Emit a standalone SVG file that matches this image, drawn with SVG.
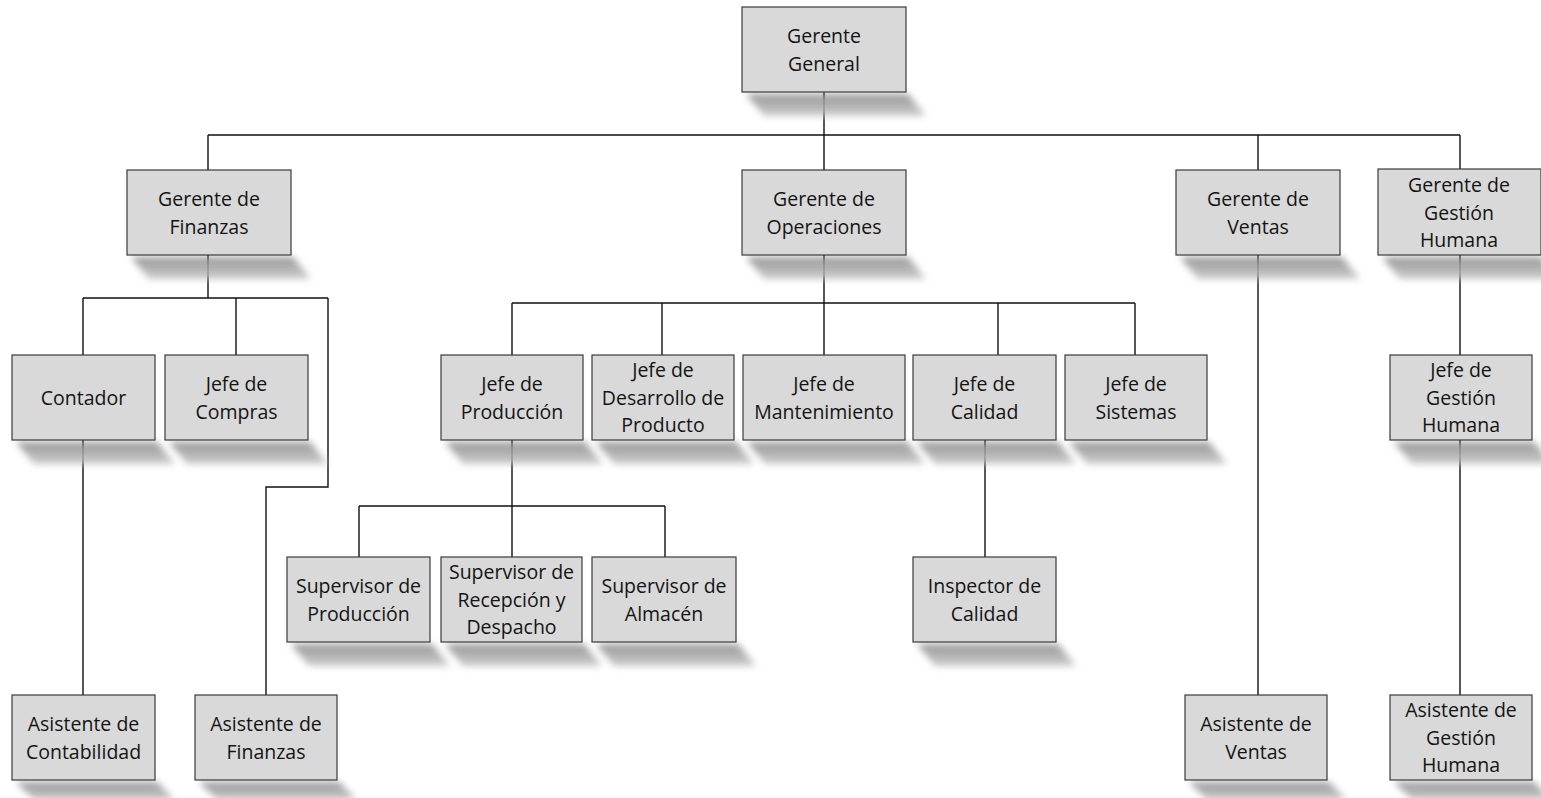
<svg xmlns="http://www.w3.org/2000/svg" width="1541" height="798" viewBox="0 0 1541 798">
  <defs>
    <filter id="soft" x="-20%" y="-80%" width="140%" height="260%">
      <feGaussianBlur stdDeviation="3.5"/>
    </filter>
    <linearGradient id="shade" x1="0" y1="0" x2="0" y2="1">
      <stop offset="0" stop-color="#858585"/>
      <stop offset="1" stop-color="#c4c4c4"/>
    </linearGradient>
  </defs>
  <style>
    .box { fill: #d9d9d9; stroke: #3a3a3a; stroke-width: 1.2; }
    .shadow { fill: url(#shade); filter: url(#soft); opacity: 0.85; }
    .lbl { font-family: "Open Sans", "Liberation Sans", sans-serif; font-size: 19.5px; fill: #141414; text-anchor: middle; }
    .wire { fill: none; stroke: #111; stroke-width: 1.4; }
  </style>
  <rect width="1541" height="798" fill="#ffffff"/>

  <!-- connectors -->
  <g id="connectors" class="wire">
    <path d="M824 92V135M208 135H1460M208 135V170M824 135V170M1258 135V170M1460 135V170"/>
    <!-- finance branch -->
    <path d="M208 255V298M83 298H328M83 298V355M236 298V355M328 298V487H266V695M83 440V695"/>
    <!-- operations branch -->
    <path d="M824 255V303M512 303H1135M512 303V355M662 303V355M824 303V355M998 303V355M1135 303V355"/>
    <path d="M512 440V506M359 506H665M359 506V557M512 506V557M665 506V557"/>
    <path d="M985 440V557"/>
    <!-- sales -->
    <path d="M1258 255V695"/>
    <!-- human resources -->
    <path d="M1460 255V355M1460 440V695"/>
  </g>

  <g id="gerente-general">
    <polygon class="shadow" points="746,94 908,94 926,116 764,116"/>
    <rect class="box" x="742" y="7" width="164" height="85"/>
    <text class="lbl" x="824" y="43">Gerente</text>
    <text class="lbl" x="824" y="71">General</text>
  </g>

  <g id="gerente-finanzas">
    <polygon class="shadow" points="131,257 293,257 311,279 149,279"/>
    <rect class="box" x="127" y="170" width="164" height="85"/>
    <text class="lbl" x="209" y="206">Gerente de</text>
    <text class="lbl" x="209" y="234">Finanzas</text>
  </g>

  <g id="gerente-operaciones">
    <polygon class="shadow" points="746,257 908,257 926,279 764,279"/>
    <rect class="box" x="742" y="170" width="164" height="85"/>
    <text class="lbl" x="824" y="206">Gerente de</text>
    <text class="lbl" x="824" y="234">Operaciones</text>
  </g>

  <g id="gerente-ventas">
    <polygon class="shadow" points="1180,257 1342,257 1360,279 1198,279"/>
    <rect class="box" x="1176" y="170" width="164" height="85"/>
    <text class="lbl" x="1258" y="206">Gerente de</text>
    <text class="lbl" x="1258" y="234">Ventas</text>
  </g>

  <g id="gerente-gestion-humana">
    <polygon class="shadow" points="1382,257 1541,257 1559,279 1400,279"/>
    <rect class="box" x="1378" y="169" width="163" height="86"/>
    <text class="lbl" x="1459" y="192">Gerente de</text>
    <text class="lbl" x="1459" y="220">Gestión</text>
    <text class="lbl" x="1459" y="247">Humana</text>
  </g>

  <g id="contador">
    <polygon class="shadow" points="16,442 157,442 175,464 34,464"/>
    <rect class="box" x="12" y="355" width="143" height="85"/>
    <text class="lbl" x="83.5" y="405">Contador</text>
  </g>

  <g id="jefe-compras">
    <polygon class="shadow" points="169,442 310,442 328,464 187,464"/>
    <rect class="box" x="165" y="355" width="143" height="85"/>
    <text class="lbl" x="236.5" y="391">Jefe de</text>
    <text class="lbl" x="236.5" y="419">Compras</text>
  </g>

  <g id="jefe-produccion">
    <polygon class="shadow" points="445,442 585,442 603,464 463,464"/>
    <rect class="box" x="441" y="355" width="142" height="85"/>
    <text class="lbl" x="512" y="391">Jefe de</text>
    <text class="lbl" x="512" y="419">Producción</text>
  </g>

  <g id="jefe-desarrollo">
    <polygon class="shadow" points="596,442 736,442 754,464 614,464"/>
    <rect class="box" x="592" y="355" width="142" height="85"/>
    <text class="lbl" x="663" y="377">Jefe de</text>
    <text class="lbl" x="663" y="405">Desarrollo de</text>
    <text class="lbl" x="663" y="432">Producto</text>
  </g>

  <g id="jefe-mantenimiento">
    <polygon class="shadow" points="747,442 907,442 925,464 765,464"/>
    <rect class="box" x="743" y="355" width="162" height="85"/>
    <text class="lbl" x="824" y="391">Jefe de</text>
    <text class="lbl" x="824" y="419">Mantenimiento</text>
  </g>

  <g id="jefe-calidad">
    <polygon class="shadow" points="917,442 1058,442 1076,464 935,464"/>
    <rect class="box" x="913" y="355" width="143" height="85"/>
    <text class="lbl" x="984.5" y="391">Jefe de</text>
    <text class="lbl" x="984.5" y="419">Calidad</text>
  </g>

  <g id="jefe-sistemas">
    <polygon class="shadow" points="1069,442 1209,442 1227,464 1087,464"/>
    <rect class="box" x="1065" y="355" width="142" height="85"/>
    <text class="lbl" x="1136" y="391">Jefe de</text>
    <text class="lbl" x="1136" y="419">Sistemas</text>
  </g>

  <g id="jefe-gestion-humana">
    <polygon class="shadow" points="1394,442 1534,442 1552,464 1412,464"/>
    <rect class="box" x="1390" y="355" width="142" height="85"/>
    <text class="lbl" x="1461" y="377">Jefe de</text>
    <text class="lbl" x="1461" y="405">Gestión</text>
    <text class="lbl" x="1461" y="432">Humana</text>
  </g>

  <g id="supervisor-produccion">
    <polygon class="shadow" points="291,644 432,644 450,666 309,666"/>
    <rect class="box" x="287" y="557" width="143" height="85"/>
    <text class="lbl" x="358.5" y="593">Supervisor de</text>
    <text class="lbl" x="358.5" y="621">Producción</text>
  </g>

  <g id="supervisor-recepcion">
    <polygon class="shadow" points="445,644 584,644 602,666 463,666"/>
    <rect class="box" x="441" y="557" width="141" height="85"/>
    <text class="lbl" x="511.5" y="579">Supervisor de</text>
    <text class="lbl" x="511.5" y="607">Recepción y</text>
    <text class="lbl" x="511.5" y="634">Despacho</text>
  </g>

  <g id="supervisor-almacen">
    <polygon class="shadow" points="596,644 738,644 756,666 614,666"/>
    <rect class="box" x="592" y="557" width="144" height="85"/>
    <text class="lbl" x="664" y="593">Supervisor de</text>
    <text class="lbl" x="664" y="621">Almacén</text>
  </g>

  <g id="inspector-calidad">
    <polygon class="shadow" points="917,644 1058,644 1076,666 935,666"/>
    <rect class="box" x="913" y="557" width="143" height="85"/>
    <text class="lbl" x="984.5" y="593">Inspector de</text>
    <text class="lbl" x="984.5" y="621">Calidad</text>
  </g>

  <g id="asistente-contabilidad">
    <polygon class="shadow" points="16,782 157,782 175,800 34,800"/>
    <rect class="box" x="12" y="695" width="143" height="85"/>
    <text class="lbl" x="83.5" y="731">Asistente de</text>
    <text class="lbl" x="83.5" y="759">Contabilidad</text>
  </g>

  <g id="asistente-finanzas">
    <polygon class="shadow" points="199,782 339,782 357,800 217,800"/>
    <rect class="box" x="195" y="695" width="142" height="85"/>
    <text class="lbl" x="266" y="731">Asistente de</text>
    <text class="lbl" x="266" y="759">Finanzas</text>
  </g>

  <g id="asistente-ventas">
    <polygon class="shadow" points="1189,782 1329,782 1347,800 1207,800"/>
    <rect class="box" x="1185" y="695" width="142" height="85"/>
    <text class="lbl" x="1256" y="731">Asistente de</text>
    <text class="lbl" x="1256" y="759">Ventas</text>
  </g>

  <g id="asistente-gestion-humana">
    <polygon class="shadow" points="1394,782 1534,782 1552,800 1412,800"/>
    <rect class="box" x="1390" y="695" width="142" height="85"/>
    <text class="lbl" x="1461" y="717">Asistente de</text>
    <text class="lbl" x="1461" y="745">Gestión</text>
    <text class="lbl" x="1461" y="772">Humana</text>
  </g>
</svg>
